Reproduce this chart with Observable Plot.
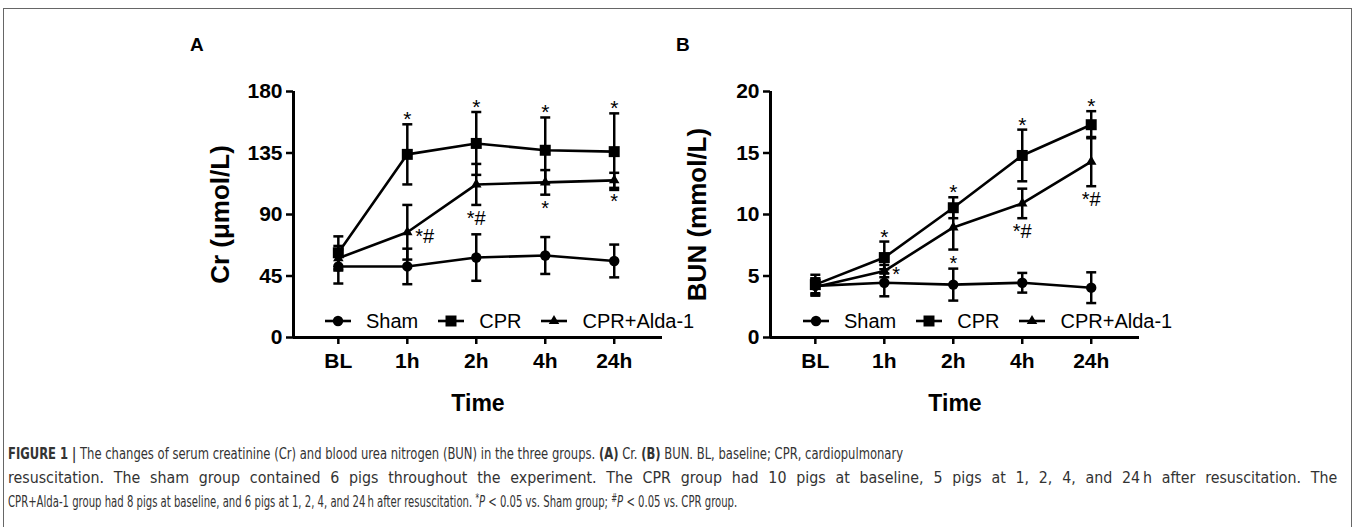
<!DOCTYPE html>
<html><head><meta charset="utf-8">
<script src="https://cdn.jsdelivr.net/npm/d3@7"></script>
<script src="https://cdn.jsdelivr.net/npm/@observablehq/plot@0.6"></script>
<style>
html,body{margin:0;padding:0;background:#fff;width:1355px;height:527px;overflow:hidden;position:relative;font-family:"Liberation Sans",Arial,Helvetica,sans-serif;}
#box{position:absolute;left:3px;top:8px;width:1349px;height:560px;border:1px solid #666;box-sizing:border-box;}
.panel{position:absolute;top:60px;}
.letter{position:absolute;font-weight:bold;font-size:19px;line-height:19px;color:#000;}
.legend{position:absolute;display:flex;align-items:center;height:20px;font-size:20px;line-height:20px;color:#000;white-space:nowrap;}
.legend svg{margin-right:15px;display:block;}
.legend span{margin-right:20px;}
.cap{position:absolute;left:8px;white-space:nowrap;font-family:"Liberation Sans Narrow","DejaVu Sans Condensed","Liberation Sans",Arial,sans-serif;font-size:16.5px;line-height:22px;color:#333;transform-origin:0 50%;}
.cap sup{font-size:0.7em;line-height:0;vertical-align:0.45em;}
</style></head><body>
<div id="box"></div>
<div class="letter" style="left:190px;top:35px">A</div>
<div class="letter" style="left:676px;top:35px">B</div>
<div id="panelA" class="panel" style="left:160px"></div>
<div id="panelB" class="panel" style="left:640px"></div>
<div id="legendA" class="legend" style="left:325px;top:311px"></div>
<div id="legendB" class="legend" style="left:803px;top:311px"></div>
<div id="cap1" class="cap" style="top:443px"><b>FIGURE 1 |</b> The changes of serum creatinine (Cr) and blood urea nitrogen (BUN) in the three groups. <b>(A)</b> Cr. <b>(B)</b> BUN. BL, baseline; CPR, cardiopulmonary</div>
<div id="cap2" class="cap" style="top:467px">resuscitation. The sham group contained 6 pigs throughout the experiment. The CPR group had 10 pigs at baseline, 5 pigs at 1, 2, 4, and 24&#8201;h after resuscitation. The</div>
<div id="cap3" class="cap" style="top:491px">CPR+Alda-1 group had 8 pigs at baseline, and 6 pigs at 1, 2, 4, and 24&#8201;h after resuscitation. <sup>*</sup><i>P</i> &lt; 0.05 vs. Sham group; <sup><i>#</i></sup><i>P</i> &lt; 0.05 vs. CPR group.</div>
<script>
// ---- data ----
const times = ["BL", "1h", "2h", "4h", "24h"];
const groups = ["Sham", "CPR", "CPR+Alda-1"];

const crTicks = [0, 45, 90, 135, 180];
const crSham = [52, 52, 58.5, 60, 56];
const crShamSD = [12.5, 13, 17, 13.5, 12];
const crCPR = [62, 134, 142, 137, 136];
const crCPRSD = [12, 22, 23, 24, 28];
const crAlda = [58, 77, 112, 113.5, 115];
const crAldaSD = [9, 20, 15, 9, 5.5];
const crCPRSig = ["", "*", "*", "*", "*"];
const crAldaSig = ["", "*#", "*#", "*", "*"];

const bunTicks = [0, 5, 10, 15, 20];
const bunSham = [4.2, 4.45, 4.3, 4.45, 4.05];
const bunShamSD = [0.6, 1.1, 1.3, 0.8, 1.25];
const bunCPR = [4.3, 6.5, 10.55, 14.8, 17.3];
const bunCPRSD = [0.8, 1.3, 0.85, 2.1, 1.1];
const bunAlda = [4.1, 5.4, 8.95, 10.9, 14.3];
const bunAldaSD = [0.7, 0.5, 1.8, 1.2, 2.0];
const bunCPRSig = ["", "*", "*", "*", "*"];
const bunAldaSig = ["", "*", "*", "*#", "*#"];

// ---- drawing ----
const FONT = '"Liberation Sans", Arial, Helvetica, sans-serif';
const symbolOf = {"Sham": "circle", "CPR": "square", "CPR+Alda-1": "triangle"};
const rOf = {"Sham": 5.2, "CPR": 6.2, "CPR+Alda-1": 3.9};
const capSymbol = {draw(ctx, size) { const w = Math.sqrt(size / Math.PI); ctx.moveTo(-w, 0); ctx.lineTo(w, 0); }};

function rowsOf(group, vals, sds) {
  return vals.map((v, i) => ({i, time: times[i], group, v, lo: v - sds[i], hi: v + sds[i]}));
}

function panel({yTitle, ticks, series, cprSig, aldaSig, marginLeft, marginRight}) {
  const rows = series.flatMap(([g, v, s]) => rowsOf(g, v, s));
  const cpr = rows.filter(d => d.group === "CPR");
  const alda = rows.filter(d => d.group === "CPR+Alda-1");
  const cprAnn = cpr.filter(d => cprSig[d.i]).map(d => ({i: d.i, y: d.hi, text: cprSig[d.i]}));
  const aldaRight = alda.filter(d => aldaSig[d.i] && d.i === 1).map(d => ({i: d.i, y: d.v, text: aldaSig[d.i]}));
  const aldaBelow = alda.filter(d => aldaSig[d.i] && d.i !== 1).map(d => ({i: d.i, y: d.lo, text: aldaSig[d.i]}));
  const xDomain = [-0.65, times.length - 0.3];
  const yMax = ticks[ticks.length - 1];
  return Plot.plot({
    width: 540, height: 370,
    marginLeft, marginRight, marginTop: 31, marginBottom: 93,
    style: {fontFamily: FONT, fontSize: "21px", fontWeight: "bold", color: "#000", background: "transparent", overflow: "visible"},
    x: {type: "linear", domain: xDomain, label: null},
    y: {domain: [0, yMax], label: null},
    marks: [
      Plot.axisY({ticks, tickSize: 7, tickPadding: 4, strokeWidth: 2.5, label: null}),
      Plot.axisX({ticks: d3.range(times.length), tickFormat: i => times[i], tickSize: 7, tickPadding: 9, strokeWidth: 2.5, label: null}),
      Plot.ruleY([0], {strokeWidth: 3}),
      Plot.ruleX([xDomain[0]], {y1: 0, y2: yMax, strokeWidth: 3}),
      Plot.ruleX(rows, {x: "i", y1: "lo", y2: "hi", strokeWidth: 2.5}),
      Plot.dot(rows, {x: "i", y: "hi", symbol: capSymbol, r: 5, fill: "none", stroke: "black", strokeWidth: 2.5}),
      Plot.dot(rows, {x: "i", y: "lo", symbol: capSymbol, r: 5, fill: "none", stroke: "black", strokeWidth: 2.5}),
      Plot.line(rows, {x: "i", y: "v", z: "group", stroke: "black", strokeWidth: 2.6}),
      ...groups.map(g => Plot.dot(rows.filter(d => d.group === g), {x: "i", y: "v", symbol: symbolOf[g], r: rOf[g], fill: "black", stroke: "none"})),
      Plot.text(cprAnn, {x: "i", y: "y", text: "text", lineAnchor: "bottom", dy: 2, fontSize: 21, fontWeight: "normal"}),
      Plot.text(aldaBelow, {x: "i", y: "y", text: "text", lineAnchor: "top", dy: 6, fontSize: 20, fontWeight: "normal"}),
      Plot.text(aldaRight, {x: "i", y: "y", text: "text", textAnchor: "start", dx: 8, dy: 4, fontSize: 20, fontWeight: "normal"}),
      Plot.text([yTitle], {frameAnchor: "left", textAnchor: "middle", rotate: -90, dx: -73, fontSize: 26, fontWeight: "bold"}),
      Plot.text(["Time"], {frameAnchor: "bottom", textAnchor: "middle", lineAnchor: "bottom", dy: 73, fontSize: 23, fontWeight: "bold"})
    ]
  });
}

document.getElementById("panelA").append(panel({
  yTitle: "Cr (μmol/L)", ticks: crTicks,
  series: [["Sham", crSham, crShamSD], ["CPR", crCPR, crCPRSD], ["CPR+Alda-1", crAlda, crAldaSD]],
  cprSig: crCPRSig, aldaSig: crAldaSig, marginLeft: 133, marginRight: 38
}));
document.getElementById("panelB").append(panel({
  yTitle: "BUN (mmol/L)", ticks: bunTicks,
  series: [["Sham", bunSham, bunShamSD], ["CPR", bunCPR, bunCPRSD], ["CPR+Alda-1", bunAlda, bunAldaSD]],
  cprSig: bunCPRSig, aldaSig: bunAldaSig, marginLeft: 130, marginRight: 41
}));

// legends
const d3sym = {"Sham": d3.symbolCircle, "CPR": d3.symbolSquare, "CPR+Alda-1": d3.symbolTriangle};
function legend(el) {
  groups.forEach(g => {
    const svg = d3.create("svg").attr("width", 26).attr("height", 14);
    svg.append("line").attr("x1", 0).attr("x2", 26).attr("y1", 7).attr("y2", 7).attr("stroke", "black").attr("stroke-width", 2.6);
    svg.append("path").attr("transform", "translate(13,7)").attr("d", d3.symbol(d3sym[g], Math.PI * rOf[g] * rOf[g])()).attr("fill", "black");
    el.append(svg.node());
    const s = document.createElement("span"); s.textContent = g; el.append(s);
  });
}
legend(document.getElementById("legendA"));
legend(document.getElementById("legendB"));

// fit caption lines to the widths seen in the figure
const c1 = document.getElementById("cap1"), c2 = document.getElementById("cap2"), c3 = document.getElementById("cap3");
const w1 = c1.scrollWidth, w2 = c2.scrollWidth, w3 = c3.scrollWidth;
const s1 = 895 / w1, s3 = 729 / w3, sFull = 1329 / w2;
let s2 = s1 + 0.6 * (sFull - s1);
const n2 = (c2.textContent.match(/ /g) || []).length;
let ws = (1329 / s2 - w2) / n2;
if (ws < 0) { s2 = sFull; ws = 0; }
c1.style.transform = `scaleX(${s1})`;
c3.style.transform = `scaleX(${s3})`;
c2.style.transform = `scaleX(${s2})`;
c2.style.wordSpacing = ws + "px";
</script>
</body></html>
